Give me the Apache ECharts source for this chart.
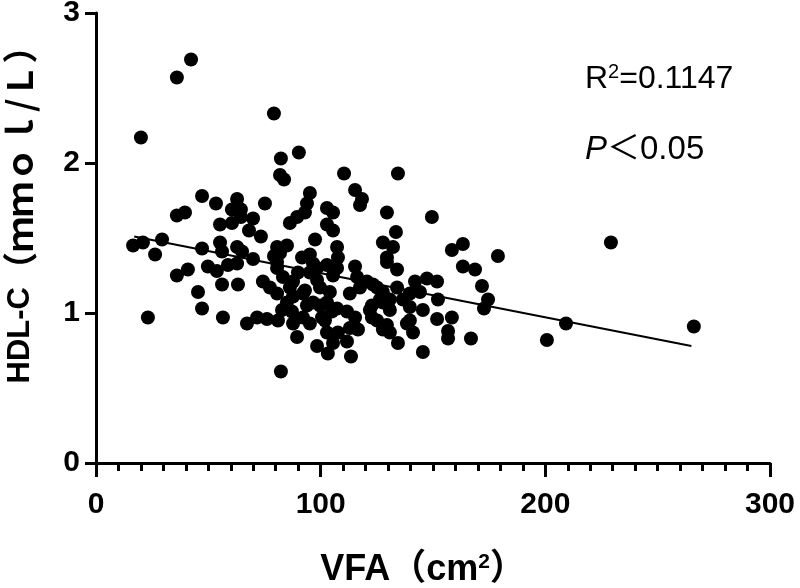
<!DOCTYPE html>
<html>
<head>
<meta charset="utf-8">
<script src="https://cdn.jsdelivr.net/npm/echarts@6/dist/echarts.min.js"></script>
<style>html,body{margin:0;padding:0;background:#fff}#c{width:800px;height:588px}</style>
</head>
<body>
<div id="c"></div>
<script>
// VFA (cm²) values
const vfa = [42.3,36.0,20.0,79.2,82.3,90.3,81.9,83.7,47.2,53.4,62.8,60.5,64.5,75.2,69.9,36.0,39.6,55.2,60.5,64.5,
68.1,73.4,95.2,93.9,93.0,89.5,86.3,97.5,16.5,20.9,29.4,26.3,47.2,55.2,56.1,62.8,65.0,69.9,80.6,85.0,
81.9,79.2,91.7,95.2,58.7,62.8,49.8,53.8,40.9,36.0,80.6,83.2,89.9,56.1,63.2,74.3,77.4,80.6,45.4,47.2,
23.1,56.5,67.2,71.7,76.1,81.0,82.8,87.2,87.7,92.1,95.2,89.5,98.4,82.3,86.3,87.7,92.1,93.9,98.4,87.7,
95.2,98.4,102.8,107.3,115.3,93.0,99.7,104.1,113.0,117.5,123.3,127.7,129.5,85.0,96.6,102.8,107.3,111.7,115.3,121.9,
125.1,129.5,100.6,102.8,107.7,113.0,116.6,103.2,105.5,111.7,113.5,110.4,134.4,115.3,118.4,117.5,102.8,105.5,129.5,149.5,
102.8,105.5,133.5,127.7,132.2,129.5,134.0,158.4,163.3,178.9,163.3,168.7,171.8,174.5,172.7,107.3,107.7,105.5,116.2,120.6,
125.1,134.0,142.0,147.3,151.8,139.7,144.2,152.2,99.7,105.0,122.8,126.4,130.8,139.7,145.5,101.9,122.8,139.7,151.8,158.4,
127.7,138.4,141.1,130.8,134.4,145.5,156.7,156.7,166.9,229.2,209.2,200.7,266.1,80.6,96.6,127.7,130.8,136.6];
// HDL-C (mmol/L) values
const hdl = [2.69,2.57,2.17,2.33,2.03,2.07,1.92,1.89,1.78,1.73,1.76,1.69,1.69,1.73,1.63,1.65,1.67,1.59,1.60,1.64,
1.55,1.51,1.80,1.73,1.67,1.64,1.60,1.49,1.45,1.47,1.49,1.39,1.43,1.47,1.41,1.44,1.41,1.36,1.44,1.45,
1.40,1.38,1.37,1.39,1.32,1.33,1.31,1.28,1.29,1.25,1.30,1.24,1.27,1.19,1.19,1.21,1.17,1.13,1.14,1.03,
0.97,0.97,0.93,0.97,0.96,0.95,1.02,1.01,0.93,0.97,0.93,0.84,0.78,0.61,1.17,1.11,1.13,1.05,1.22,1.21,
1.27,1.30,1.32,1.30,1.31,1.15,1.17,1.14,1.13,1.17,1.19,1.14,1.34,1.07,1.07,1.07,1.03,1.01,0.97,1.02,
0.95,0.92,0.97,0.87,0.87,0.90,0.89,0.73,0.80,0.81,0.71,1.93,1.93,1.82,1.76,1.72,1.70,1.67,1.67,1.64,
1.59,1.55,1.54,1.47,1.44,1.37,1.29,1.42,1.46,1.38,1.31,1.29,1.18,1.09,1.03,1.44,1.37,1.25,1.24,1.21,
1.17,1.17,1.21,1.23,1.21,1.13,1.14,1.09,1.05,1.01,1.05,1.09,1.09,1.04,1.02,0.95,0.97,0.95,0.96,0.97,
0.89,0.93,0.87,0.87,0.80,0.74,0.88,0.83,0.83,1.47,0.93,0.82,0.91,1.34,1.33,1.07,1.02,1.09];
// Fitted regression line endpoints
const fitX = [17, 265];
const fitY = [1.51, 0.78];
const xTicks = [0, 100, 200, 300];
const yTicks = [0, 1, 2, 3];
const xNameParts = ['VFA（cm', '2', '）'];
const yNameParts = ['HDL-C', '（ｍｍｏｌ/Ｌ）'];
const r2Parts = ['R', '2', '=0.1147'];
const pParts = ['P', '＜0.05'];

const points = vfa.map((v, i) => [v, hdl[i]]);
const fit = fitX.map((v, i) => [v, fitY[i]]);
const LAT = 'Arial, "Liberation Sans", "Noto Sans CJK SC", sans-serif';
const CJK = '"Noto Sans CJK SC", sans-serif';

const chart = echarts.init(document.getElementById('c'), null, {renderer: 'canvas'});
chart.setOption({
  animation: false,
  backgroundColor: '#fff',
  grid: {left: 96, right: 30, top: 13, bottom: 125, containLabel: false, outerBoundsMode: 'none'},
  xAxis: {
    type: 'value', min: xTicks[0], max: xTicks[xTicks.length - 1], interval: 100,
    axisLine: {onZero: false, lineStyle: {color: '#000', width: 3}},
    axisTick: {length: 14, lineStyle: {width: 3, color: '#000'}},
    minorTick: {show: true, splitNumber: 10, length: 8, lineStyle: {width: 3, color: '#000'}},
    splitLine: {show: false},
    axisLabel: {margin: 27, fontFamily: LAT, fontWeight: 'bold', fontSize: 30, color: '#000'}
  },
  yAxis: {
    type: 'value', min: yTicks[0], max: yTicks[yTicks.length - 1], interval: 1,
    axisLine: {onZero: false, lineStyle: {color: '#000', width: 3}},
    axisTick: {length: 11, lineStyle: {width: 3, color: '#000'}},
    splitLine: {show: false},
    axisLabel: {margin: 16, fontFamily: LAT, fontWeight: 'bold', fontSize: 30, color: '#000'}
  },
  series: [
    {type: 'scatter', data: points, symbol: 'circle', symbolSize: 14, itemStyle: {color: '#000', opacity: 1}, z: 3},
    {type: 'line', data: fit, showSymbol: false, symbol: 'none', lineStyle: {color: '#000', width: 2}, z: 2}
  ],
  graphic: [
    {type: 'text', x: 20, y: 206, rotation: Math.PI / 2, style: {
      text: '{a|' + yNameParts[0] + '}{b|' + yNameParts[1] + '}',
      align: 'center', verticalAlign: 'middle',
      rich: {
        a: {fontFamily: LAT, fontWeight: 'bold', fontSize: 31, fill: '#000'},
        b: {fontFamily: CJK, fontWeight: 'bold', fontSize: 35, fill: '#000'}
      }
    }},
    {type: 'text', x: 423, y: 570, style: {
      text: '{n|' + xNameParts[0] + '}{s|' + xNameParts[1] + '}{n|' + xNameParts[2] + '}',
      align: 'center', verticalAlign: 'middle',
      rich: {
        n: {fontFamily: LAT, fontWeight: 'bold', fontSize: 36, lineHeight: 38, fill: '#000'},
        s: {fontFamily: LAT, fontWeight: 'bold', fontSize: 21, lineHeight: 38, padding: [0, 0, 15, 0], fill: '#000'}
      }
    }},
    {type: 'text', x: 585, y: 79, style: {
      text: '{n|' + r2Parts[0] + '}{s|' + r2Parts[1] + '}{n|' + r2Parts[2] + '}',
      align: 'left', verticalAlign: 'middle',
      rich: {
        n: {fontFamily: LAT, fontSize: 32, lineHeight: 34, fill: '#000'},
        s: {fontFamily: LAT, fontSize: 20, lineHeight: 34, padding: [0, 0, 14, 0], fill: '#000'}
      }
    }},
    {type: 'text', x: 585, y: 150, style: {
      text: '{i|' + pParts[0] + '}{n|' + pParts[1] + '}',
      align: 'left', verticalAlign: 'middle',
      rich: {
        i: {fontFamily: LAT, fontStyle: 'italic', fontSize: 33, fill: '#000'},
        n: {fontFamily: LAT, fontSize: 33, fill: '#000'}
      }
    }}
  ]
});
</script>
</body>
</html>
